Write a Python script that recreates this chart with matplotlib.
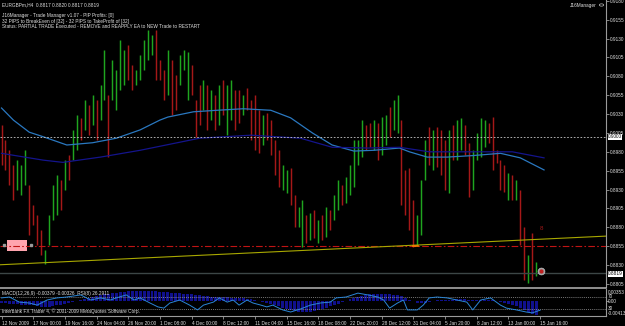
import matplotlib
matplotlib.use("Agg")
import matplotlib.pyplot as plt
from matplotlib.patches import Rectangle, Circle

# ---------------- data ----------------
symbol_line = "EURGBPm,H4  0.8817 0.8820 0.8817 0.8819"
ea_lines = ["J16Manager - Trade Manager v1.07 - PIP Profits: [0]",
            "32 PIPS to BreakEven of [32] - 32 PIPS to TakeProfit of [32]",
            "Status: PARTIAL TRADE Executed - REMOVE and REAPPLY EA to NEW Trade to RESTART"]

# one entry per two H4 bars
highs = [.9016, .8996, .8982, .8963, .8969, .8963, .8982, .8936, .8910, .8896,
         .8876, .8850, .8896, .8936, .8949, .8943, .8969, .8976, .9009, .9029,
         .9025, .9049, .9042, .9055, .9049, .9069, .9115, .9055, .9102, .9088,
         .9128, .9115, .9121, .9095, .9088, .9108, .9128, .9141, .9135, .9141,
         .9102, .9088, .9115, .9102, .9082, .9108, .9115, .9112, .9095, .9049,
         .9069, .9075, .9069, .9062, .9055, .9069, .9075, .9069, .9075, .9062,
         .9062, .9055, .9065, .9049, .9055, .9035, .9029, .9031, .9022, .8996,
         .8982, .8963, .8956, .8959, .8923, .8907, .8916, .8896, .8899, .8903,
         .8890, .8896, .8907, .8903, .8923, .8943, .8936, .8947, .8963, .8996,
         .8996, .9022, .9016, .9018, .9022, .9018, .9026, .9029, .9039, .9049,
         .9055, .9022, .8956, .8959, .8916, .8896, .8943, .8996, .9013, .9009,
         .9013, .9009, .8996, .9009, .9016, .9022, .9025, .9016, .8992, .8982,
         .9005, .9025, .9022, .9018, .9026, .8982, .8969, .8963, .8952, .8949,
         .8943, .8929, .8881, .8843, .8872, .8834]
lows = [.8963, .8956, .8936, .8916, .8929, .8923, .8936, .8870, .8883, .8857,
        .8843, .8832, .8857, .8890, .8896, .8903, .8929, .8943, .8969, .8982,
        .8996, .9009, .9002, .9016, .8996, .9022, .9049, .8973, .9049, .9035,
        .9062, .9069, .9075, .9062, .9069, .9075, .9088, .9102, .9108, .9075,
        .9075, .9049, .9055, .9029, .9035, .9069, .9088, .9049, .9055, .9000,
        .9016, .9035, .9009, .9022, .9009, .9016, .9029, .9002, .9022, .9009,
        .9018, .9029, .9035, .8996, .8982, .8978, .8989, .8996, .8976, .8949,
        .8934, .8929, .8925, .8910, .8881, .8881, .8854, .8859, .8863, .8866,
        .8859, .8863, .8867, .8876, .8890, .8903, .8910, .8912, .8923, .8934,
        .8963, .8973, .8982, .8986, .8982, .8969, .8976, .8989, .9000, .9009,
        .9005, .8910, .8896, .8876, .8854, .8857, .8870, .8943, .8963, .8956,
        .8960, .8949, .8929, .8925, .8969, .8969, .8982, .8976, .8920, .8929,
        .8969, .8973, .8986, .8992, .8956, .8965, .8929, .8927, .8916, .8916,
        .8916, .8857, .8810, .8806, .8810, .8816]
direction = ("rrrrgggrrr" "rggggrgrgg" "rgrgrggrgg" "ggrrgggggr" "rrgrrgggrr"
             "rgrgrgrggr" "rgrrrrgrrr" "rggrrggrgr" "grgrggrggg" "ggrrgrggrg"
             "grrrrgggrg" "rrrgrggrrg" "gggrrrrrgr" "grrgrg")

macd_hist = [-.0004, -.0005, -.0006, -.0008, -.0008, -.0009, -.0009, -.0010,
             -.0011, -.0013, -.0015, -.0016, -.0015, -.0013, -.0011, -.0009, -.0007, -.0005,
             -.0002, .0001, .0004, .0007, .0010, .0013, .0015,
             .0018, .0021, .0022, .0024, .0025, .0027, .0028, .0029,
             .0029, .0030, .0030, .0030, .0031, .0030, .0029, .0028,
             .0027, .0026, .0025, .0024, .0023, .0022, .0021, .0020, .0018, .0017,
             .0016, .0015, .0014, .0013, .0013, .0012, .0012, .0011, .0010, .0010, .0009, .0008, .0006, .0004,
             .0002, -.0001, -.0004, -.0007, -.0010, -.0014, -.0018, -.0022, -.0025, -.0028,
             -.0030, -.0031, -.0031, -.0030, -.0028, -.0025, -.0022, -.0018, -.0014, -.0010,
             -.0006, -.0002, .0002, .0006, .0010, .0013, .0016, .0018, .0020, .0021, .0022, .0022, .0021, .0020, .0019, .0018,
             .0015, .0010, .0005, .0000, -.0003, -.0004, -.0003, -.0001, .0001, .0003, .0004, .0004,
             .0005, .0005, .0006, .0006, .0006, .0005, .0004, .0004, .0004, .0004, .0003, .0003,
             .0001, -.0002, -.0005, -.0008, -.0011, -.0014, -.0018, -.0024, -.0030, -.0035, -.0038]

rsi_bar = [0, 4, 9, 14, 18, 23, 28, 33, 40, 45, 50, 55, 58, 63, 67, 70, 75, 79, 82, 85,
           90, 95, 99, 102, 107, 110, 114, 117, 120, 124, 127, 131, 134, 137, 142, 146,
           151, 156, 161, 166, 169, 174, 180, 185, 190, 193, 196, 200, 203, 205, 210,
           213, 216, 220, 225, 230, 235, 238, 242, 247, 252, 255, 260, 265, 268, 272]
rsi_val = [67, 70, 53, 50, 43, 60, 67, 70, 77, 60, 67, 60, 67, 77, 60, 67, 50, 37, 33, 50,
           60, 43, 27, 43, 53, 67, 53, 60, 43, 60, 50, 43, 37, 43, 27, 20,
           30, 43, 50, 53, 67, 70, 83, 77, 70, 60, 33, 50, 60, 27, 27,
           43, 67, 70, 67, 60, 53, 27, 60, 67, 43, 33, 27, 20, 17, 26]

ma_slow_bar = [0, 6, 14, 21, 33, 46, 58, 70, 80, 84, 97, 109, 122, 136, 146, 157, 167,
               178, 188, 201, 206, 215, 225, 238, 252, 262, 274]
ma_slow = [.9038, .9022, .9006, .9000, .8989, .8992, .8998, .9009, .9022, .9026, .9033,
           .9035, .9037, .9035, .9025, .9005, .8989, .8981, .8982, .8985, .8980, .8973,
           .8973, .8975, .8978, .8972, .8956]
ma_long_bar = [0, 21, 31, 50, 70, 100, 126, 151, 167, 185, 201, 216, 242, 258, 274]
ma_long = [.8978, .8969, .8966, .8973, .8982, .8998, .9002, .8998, .8986, .8985, .8986,
           .8980, .8980, .8980, .8972]

trend_bars = [20, 270]
trend_prices = [.8833, .8864]
level_grey = 0.9000
level_red = 0.8855
bid = 0.8819

price_ticks = [0.9180, 0.9155, 0.9130, 0.9105, 0.9080, 0.9055, 0.9030, 0.9005, 0.8980,
               0.8955, 0.8930, 0.8905, 0.8880, 0.8855, 0.8830, 0.8805]
macd_top, macd_bottom = 0.00353, -0.00413
rsi_levels = [70, 30]
date_labels = ["12 Nov 2009", "17 Nov 00:00", "19 Nov 16:00", "24 Nov 04:00", "26 Nov 20:00",
               "1 Dec 08:00", "4 Dec 00:00", "8 Dec 12:00", "11 Dec 04:00", "15 Dec 16:00",
               "18 Dec 08:00", "22 Dec 20:00", "28 Dec 12:00", "31 Dec 04:00", "5 Jan 20:00",
               "8 Jan 12:00", "13 Jan 00:00", "15 Jan 16:00"]
bars_per_label = 16
macd_text = "MACD(12,26,9) -0.00379 -0.00326  RSI(8) 26.2911"
copyright_text = "Interbank FX Trader 4, \u00a9 2001-2009 MetaQuotes Software Corp."

# ---------------- figure ----------------
W, H = 625, 326
plt.rcParams['font.family'] = ['Liberation Sans', 'DejaVu Sans']
FS = 3.4
TXT = '#e0e0e0'
GRID = '#9a9a9a'

fig = plt.figure(figsize=(W / 100, H / 100), dpi=100, facecolor='black')


def rect(x0, y0, x1, y1):
    return [x0 / W, 1 - y1 / H, (x1 - x0) / W, (y1 - y0) / H]


def fy(y):
    return 1 - y / H


ax = fig.add_axes(rect(0, 0, 606, 287))
sub = fig.add_axes(rect(0, 289, 606, 316))
rsi_ax = sub.twinx()
XMIN, XMAX = -0.76, 305.3
for a in (ax, sub):
    a.set_facecolor('black')
    a.set_xlim(XMIN, XMAX)
    for s in ('top', 'left', 'bottom'):
        a.spines[s].set_visible(False)
    a.spines['right'].set_color(GRID)
    a.spines['right'].set_linewidth(0.8)
for s in rsi_ax.spines.values():
    s.set_visible(False)

ax.set_ylim(0.8801, 0.9181)

# price bars
xs = [2 * i for i in range(len(highs))]
col = {'g': '#1fa51f', 'r': '#a51818'}
ax.vlines(xs, lows, highs, colors=[col[d] for d in direction], linewidth=1.05)

# moving averages
ax.plot(ma_slow_bar, ma_slow, color='#2a78c0', linewidth=0.9)
ax.plot(ma_long_bar, ma_long, color='#14148c', linewidth=0.9)

# horizontal levels
ax.axhline(level_grey, color='#c8c8c8', linewidth=0.6, linestyle=(0, (2, 2)))
ax.axhline(level_red, color='#c01414', linewidth=0.8, linestyle=(0, (6, 2, 1.5, 2)))
ax.axhline(bid, color='#3c4646', linewidth=1.0)
ax.axline((trend_bars[0], trend_prices[0]), (trend_bars[1], trend_prices[1]),
          color='#a8a800', linewidth=0.8)
ax.plot([208, 210.5], [level_red, level_red], color='#ff8000', linewidth=1.2)

# objects
ax.add_patch(Rectangle((2.8, 0.8849), 10.2, 0.0014, facecolor='#ffa4ae', edgecolor='none'))
ax.plot([1.2, 15], [0.8857, 0.8857], linestyle='none', marker='s', markersize=1.6,
        color='#9a9a9a')
ax.plot([272.5], [0.8822], marker='o', markersize=5, markerfacecolor='#9a9a9a',
        markeredgecolor='#d0d0d0', markeredgewidth=0.4)
ax.plot([272.5], [0.8822], marker='o', markersize=2, color='#c02020')
ax.text(272.5, 0.8879, "8", color='#a01818', fontsize=4.5, ha='center', va='center')

# right price axis
ax.yaxis.tick_right()
ax.set_yticks(price_ticks)
ax.set_yticklabels([f"{p:.4f}" for p in price_ticks])
ax.tick_params(axis='y', colors=GRID, labelcolor=TXT, labelsize=FS, length=2, width=0.6, pad=1)
ax.tick_params(axis='x', bottom=False, labelbottom=False)
ytr = ax.get_yaxis_transform()
for p in (level_grey, bid):
    ax.text(1.0 + 2 / 606, p - 0.00003, f"{p:.4f}", transform=ytr, fontsize=FS,
            color='black', va='center', ha='left', clip_on=False, zorder=10,
            bbox=dict(boxstyle='square,pad=0.08', facecolor='#ffffff', edgecolor='none'))

# header texts
fig.text(2 / W, fy(5), symbol_line, color=TXT, fontsize=FS, va='center')
for i, t in enumerate(ea_lines):
    fig.text(2 / W, fy(16 + 5.5 * i), t, color=TXT, fontsize=FS, va='center')
fig.text(597 / W, fy(5), "J16Manager", color=TXT, fontsize=FS, va='center', ha='right')
fig.add_artist(Circle((601.5 / W, fy(5)), 2.2 / W, transform=fig.transFigure,
                      facecolor='none', edgecolor='#c0c0c0', linewidth=0.5))

# sub window
sub.set_ylim(macd_bottom, macd_top)
sub.bar(xs, macd_hist, width=1.5, color='#10108c', linewidth=0)
rsi_ax.set_ylim(6.7, 96.7)
for lv in rsi_levels:
    rsi_ax.axhline(lv, color='#a0a0a0', linewidth=0.5, linestyle=(0, (1.5, 1.5)))
rsi_ax.plot(rsi_bar, rsi_val, color='#2b86d6', linewidth=0.7)
rsi_ax.set_yticks([])
sub.yaxis.tick_right()
sub.set_yticks([0.0])
sub.set_yticklabels([""])
sub.tick_params(axis='y', colors=GRID, length=2, width=0.6)
# right-hand labels of the indicator pane
for txt, ypx in ((f"{macd_top:.5f}", 292.5), (str(rsi_levels[0]), 297), ("0.00", 301.5),
                 (str(rsi_levels[1]), 309), (f"{macd_bottom:.5f}", 313.5)):
    fig.text(608 / W, fy(ypx), txt, color=TXT, fontsize=FS, va='center', ha='left')
sub.text(2 / 606, 0.85, macd_text, transform=sub.transAxes, color=TXT, fontsize=FS, va='center')
sub.text(2 / 606, 0.18, copyright_text, transform=sub.transAxes, color=TXT, fontsize=FS,
         va='center')

# time axis
tick_pos = [bars_per_label * i for i in range(len(date_labels))]
sub.set_xticks(tick_pos)
sub.set_xticklabels(date_labels, ha='left')
sub.tick_params(axis='x', colors=GRID, labelcolor=TXT, labelsize=FS, length=2, width=0.6, pad=1.5)
sub.spines['bottom'].set_visible(True)
sub.spines['bottom'].set_color(GRID)
sub.spines['bottom'].set_linewidth(0.8)

# separator between panes
fig.add_artist(plt.Line2D([0, 606 / W], [fy(288), fy(288)], color='#a8a8a8',
                          linewidth=1.2, transform=fig.transFigure))

fig.savefig("out.png", dpi=100, facecolor='black')
